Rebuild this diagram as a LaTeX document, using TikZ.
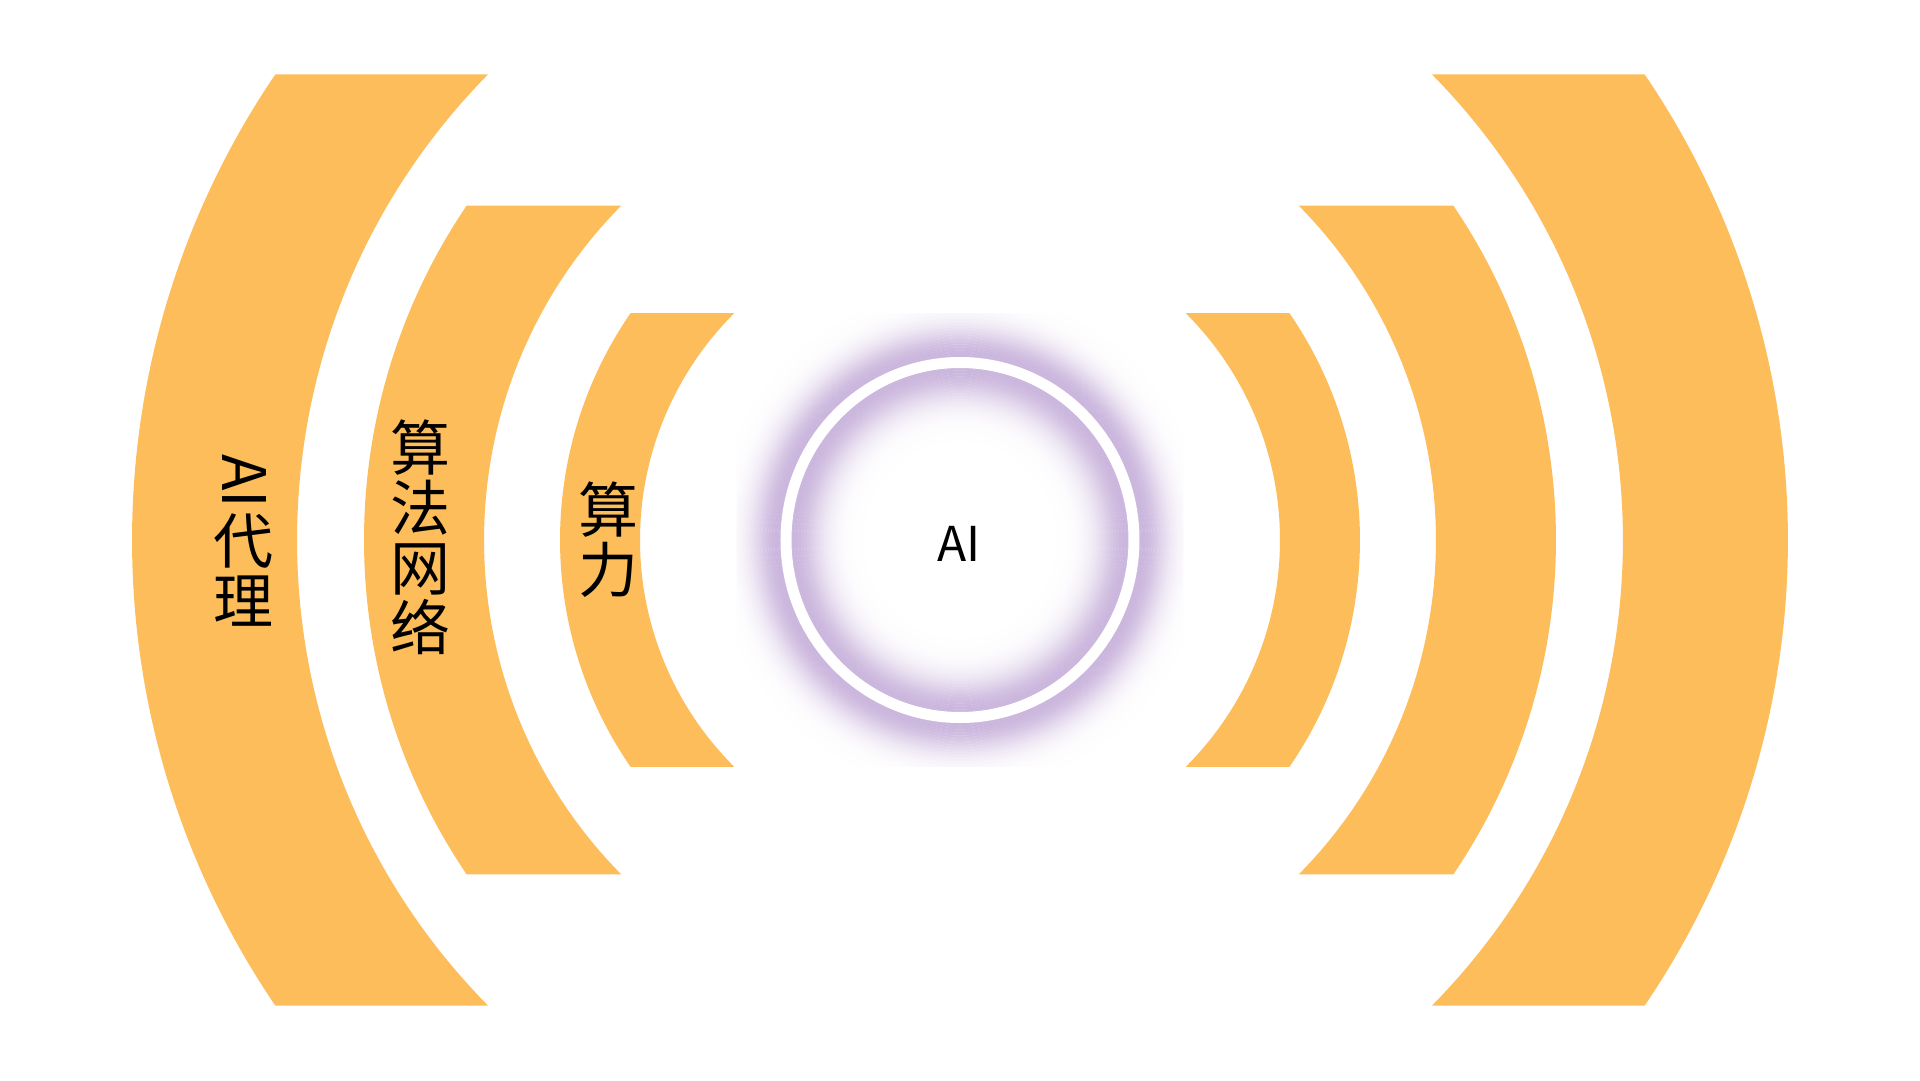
\documentclass[tikz,border=0pt]{standalone}
\usepackage{fontspec}
\setmainfont{Noto Sans CJK SC}
\usepackage{graphicx}
\definecolor{bandc}{RGB}{253,189,90}
\definecolor{glowc}{RGB}{203,182,221}
\tikzset{
  band/.style={fill=bandc, draw=none},
  vtext/.style={align=center, font=\fontsize{60}{60}\selectfont, inner sep=0pt, text=black},
  coretext/.style={font=\fontsize{48}{58}\selectfont, inner sep=0pt, text=black}
}
\begin{document}
\begin{tikzpicture}[x=1pt,y=1pt]
\fill[white] (-960,-540) rectangle (960,540);
\useasboundingbox (-960,-540) rectangle (960,540);
% glow around the core, clipped to a square
\begin{scope}
  \clip (-223,-226) rectangle (223,227);
  \foreach \r in {80,81.5,...,330}{
    \pgfmathsetmacro\p{(\r<168)*100*exp(-((168-\r)/31)^2) + (\r>=168)*(\r<=181)*100 + (\r>181)*100*exp(-((\r-181)/28)^2)}
    \draw[glowc!\p!white, line width=1.8] (0,0) ellipse [x radius=\r, y radius={1.02*\r}];
  }
\end{scope}
\draw[white, line width=11] (0,0) ellipse [x radius=174, y radius=177.5];
% bands
\foreach \R/\r/\h in {828/663/465.7, 596/476/334.5, 400/320/227}{
  \pgfmathsetmacro\aR{asin(\h/\R)}
  \pgfmathsetmacro\ar{asin(\h/\r)}
  \fill[band] ({180-\aR}:\R) arc[start angle={180-\aR}, end angle={180+\aR}, radius=\R]
     -- ({180+\ar}:\r) arc[start angle={180+\ar}, end angle={180-\ar}, radius=\r] -- cycle;
  \fill[band] (\aR:\R) arc[start angle=\aR, end angle={-\aR}, radius=\R]
     -- ({-\ar}:\r) arc[start angle={-\ar}, end angle=\ar, radius=\r] -- cycle;
}
% texts
\node[coretext] (core) at (-1,-4) {AI};
\node[vtext] (agent) at (-716,0) {\rotatebox{-90}{AI}\\[4pt]代\\理};
\node[vtext] (algo) at (-539,3) {算\\法\\网\\络};
\node[vtext] (power) at (-351,0) {算\\力};
\end{tikzpicture}
\end{document}
